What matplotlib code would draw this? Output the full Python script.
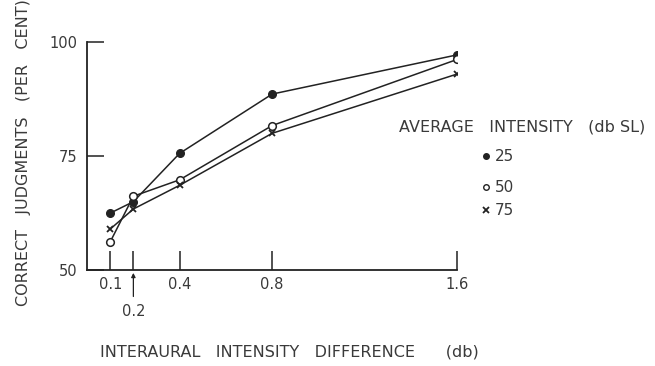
import matplotlib
matplotlib.use("Agg")
import matplotlib.pyplot as plt
from matplotlib.lines import Line2D

plt.rcParams['font.family'] = ['DejaVu Sans']

# Data
x_diff = [0.1, 0.2, 0.4, 0.8, 1.6]
y_25 = [62.5, 65.0, 75.6, 88.6, 97.2]
y_50 = [56.2, 66.2, 69.8, 81.7, 96.2]
y_75 = [59.0, 63.4, 68.6, 80.0, 93.0]
series_labels = ["25", "50", "75"]
xtick_labels = ["0.1", "0.2", "0.4", "0.8", "1.6"]
yticks = [50, 75, 100]

fig = plt.figure(figsize=(6.55, 3.66), dpi=100)
ax = fig.add_axes([0.133, 0.262, 0.565, 0.623])

c = "#222222"
tc = "#3a3a3a"
ax.plot(x_diff, y_25, color=c, lw=1.1, marker='o', ms=5.5, mfc=c, mec=c)
ax.plot(x_diff, y_50, color=c, lw=1.1, marker='o', ms=5.5, mfc='white', mec=c, mew=1.1)
ax.plot(x_diff, y_75, color=c, lw=1.1, marker='x', ms=5, mec=c, mew=1.3)

ax.set_xlim(0, 1.6)
ax.set_ylim(50, 100)
for s in ['top', 'right']:
    ax.spines[s].set_visible(False)
for s in ['left', 'bottom']:
    ax.spines[s].set_color(c)
    ax.spines[s].set_linewidth(1.3)

ax.set_yticks(yticks)
ax.set_yticklabels([str(v) for v in yticks], fontsize=10.5, color=tc)
ax.tick_params(axis='y', direction='in', length=12, width=1.1, color=c, pad=7)

ax.set_xticks(x_diff)
labels = [l if l != "0.2" else "" for l in xtick_labels]
ax.set_xticklabels(labels, fontsize=10.5, color=tc)
ax.tick_params(axis='x', direction='in', length=14, width=1.1, color=c, pad=5)

# 0.2 label below with arrow
ax.annotate(xtick_labels[1], xy=(x_diff[1], 50), xycoords='data',
            xytext=(0, -30), textcoords='offset points',
            fontsize=10.5, color=tc, ha='center', va='center',
            annotation_clip=False)
ax.annotate("", xy=(x_diff[1], 50), xycoords='data',
            xytext=(0, -21), textcoords='offset points',
            arrowprops=dict(arrowstyle='-|>', color=c, lw=0.9, mutation_scale=6),
            annotation_clip=False)

fig.text(0.036, 0.582, "CORRECT   JUDGMENTS   (PER   CENT)", rotation=90,
         fontsize=11.5, color=tc, ha='center', va='center')
fig.text(0.153, 0.038, "INTERAURAL   INTENSITY   DIFFERENCE      (db)",
         fontsize=11.5, color=tc, ha='left', va='center')

# Legend
fig.text(0.609, 0.652, "AVERAGE   INTENSITY   (db SL)", fontsize=11.5,
         color=tc, ha='left', va='center')
leg_y = [0.573, 0.489, 0.426]
styles = [dict(marker='o', ms=4, mfc=c, mec=c),
          dict(marker='o', ms=4, mfc='white', mec=c, mew=1.0),
          dict(marker='x', ms=4, mec=c, mew=1.3)]
for lab, yy, st in zip(series_labels, leg_y, styles):
    fig.add_artist(Line2D([0.742], [yy], ls='none', **st))
    fig.text(0.755, yy, lab, fontsize=11, color=tc, ha='left', va='center')

fig.savefig("out.png", dpi=100)
